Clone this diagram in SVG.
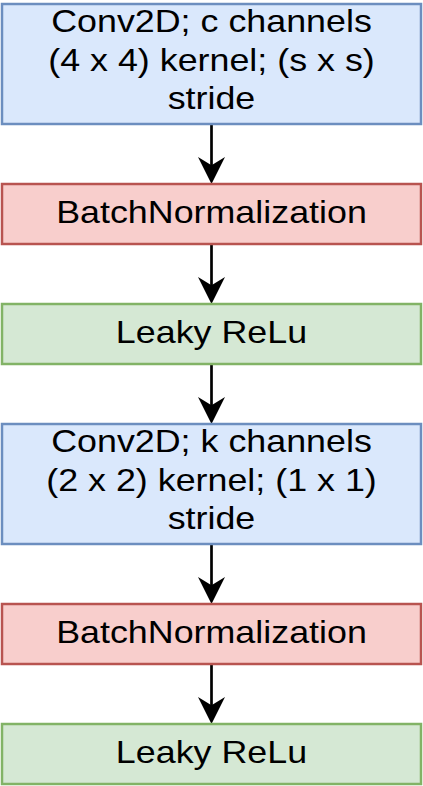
<svg xmlns="http://www.w3.org/2000/svg" width="423" height="786" viewBox="0 0 423 786">
<style>
  .box { stroke-width: 2.5; }
  .blue { fill: #dae8fc; stroke: #6c8ebf; }
  .red { fill: #f8cecc; stroke: #b85450; }
  .green { fill: #d5e8d4; stroke: #82b366; }
  .lbl { font-family: "Liberation Sans", Arial, Helvetica, sans-serif; font-size: 32px; fill: #000000; text-anchor: middle; }
  .edge { stroke: #000000; stroke-width: 2.7; fill: none; }
</style>
<defs>
  <marker id="arr" viewBox="0 0 27 27" refX="19" refY="13.5" markerWidth="27" markerHeight="27" markerUnits="userSpaceOnUse" orient="auto">
    <path d="M0,0 L27,13.5 L0,27 L8.3,13.5 Z" fill="#000000"/>
  </marker>
</defs>
<rect width="423" height="786" fill="#ffffff"/>
<g id="connectors">
  <line class="edge" x1="211.5" y1="124" x2="211.5" y2="176" marker-end="url(#arr)"/>
  <line class="edge" x1="211.5" y1="244" x2="211.5" y2="296" marker-end="url(#arr)"/>
  <line class="edge" x1="211.5" y1="364" x2="211.5" y2="416" marker-end="url(#arr)"/>
  <line class="edge" x1="211.5" y1="544" x2="211.5" y2="596" marker-end="url(#arr)"/>
  <line class="edge" x1="211.5" y1="664" x2="211.5" y2="716" marker-end="url(#arr)"/>
</g>
<g id="conv1">
  <rect class="box blue" x="2" y="4" width="419" height="120"/>
  <g transform="matrix(1.12,0,0,1,-25.38,0)">
    <text class="lbl" x="211.5" y="32.5">Conv2D; c channels</text>
    <text class="lbl" x="211.5" y="71">(4 x 4) kernel; (s x s)</text>
    <text class="lbl" x="211.5" y="109.5">stride</text>
  </g>
</g>
<g id="bn1">
  <rect class="box red" x="2" y="184" width="419" height="60"/>
  <text class="lbl" x="211.5" y="223.5" transform="matrix(1.12,0,0,1,-25.38,0)">BatchNormalization</text>
</g>
<g id="relu1">
  <rect class="box green" x="2" y="304" width="419" height="60"/>
  <text class="lbl" x="211.5" y="343.5" transform="matrix(1.12,0,0,1,-25.38,0)">Leaky ReLu</text>
</g>
<g id="conv2">
  <rect class="box blue" x="2" y="424" width="419" height="120"/>
  <g transform="matrix(1.12,0,0,1,-25.38,0)">
    <text class="lbl" x="211.5" y="452.5">Conv2D; k channels</text>
    <text class="lbl" x="211.5" y="491">(2 x 2) kernel; (1 x 1)</text>
    <text class="lbl" x="211.5" y="529.5">stride</text>
  </g>
</g>
<g id="bn2">
  <rect class="box red" x="2" y="604" width="419" height="60"/>
  <text class="lbl" x="211.5" y="643.5" transform="matrix(1.12,0,0,1,-25.38,0)">BatchNormalization</text>
</g>
<g id="relu2">
  <rect class="box green" x="2" y="724" width="419" height="60"/>
  <text class="lbl" x="211.5" y="763.5" transform="matrix(1.12,0,0,1,-25.38,0)">Leaky ReLu</text>
</g>
</svg>
